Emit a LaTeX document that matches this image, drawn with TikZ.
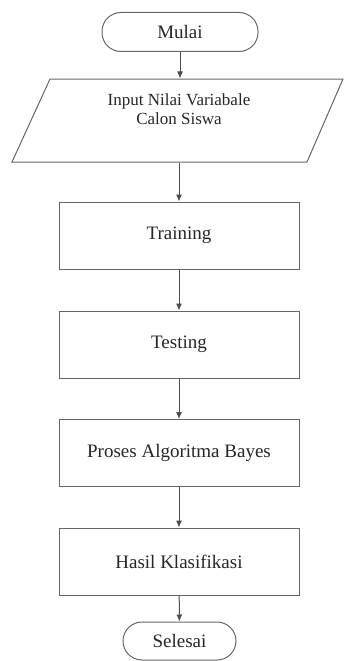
\documentclass[tikz,border=0pt]{standalone}
\usepackage{fontspec}
\setmainfont{Liberation Serif}
\usetikzlibrary{arrows.meta}
\begin{document}
\begin{tikzpicture}[x=1pt,y=-1pt,line width=1pt,
  every node/.style={font=\fontsize{19}{21}\selectfont, text=black!85},
  term/.style={draw=black!60, rounded corners=19pt, minimum height=39pt},
  proc/.style={draw=black!60, minimum width=240pt, minimum height=67pt},
  flow/.style={draw=black!70, -{Latex[length=7pt,width=6pt]}}]
\useasboundingbox (0,0) rectangle (344,661);

% start terminator
\node[term, minimum width=156pt] (mulai) at (180,32) {Mulai};

% input parallelogram
\node[minimum width=331pt, minimum height=83pt, inner sep=0pt] (input) at (177.5,120.5) {};
\draw[black!60] (50,79) -- (343,79) -- (307,162) -- (12,162) -- cycle;
\node[align=center, font=\fontsize{17}{18.5}\selectfont] (inputtext) at (179,109) {Input Nilai Variabale\\Calon Siswa};

% process steps
\node[proc] (training) at (179,235.5) {Training};
\node[proc] (testing) at (179,344.5) {Testing};
\node[proc] (proses) at (179,453) {Proses Algoritma Bayes};
\node[proc] (hasil) at (179,561.5) {Hasil Klasifikasi};

% end terminator
\node[term, minimum width=113pt, minimum height=38pt] (selesai) at (179.5,641) {Selesai};

% connectors
\draw[flow] (mulai.south) -- (mulai.south |- input.north);
\draw[flow] (training.north |- input.south) -- (training.north);
\draw[flow] (training) -- (testing);
\draw[flow] (testing) -- (proses);
\draw[flow] (proses) -- (hasil);
\draw[flow] (hasil) -- (selesai);
\end{tikzpicture}
\end{document}
